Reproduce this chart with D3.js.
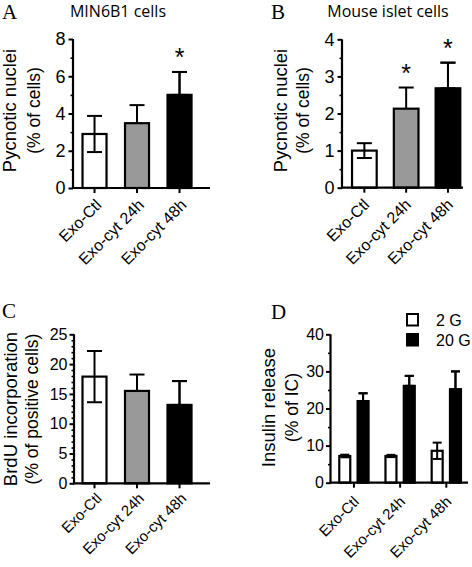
<!DOCTYPE html>
<html>
<head>
<meta charset="utf-8">
<script src="https://cdn.jsdelivr.net/npm/d3@7"></script>
<style>
  html, body { margin: 0; padding: 0; background: #fff; }
  svg { display: block; }
  text { font-family: "Liberation Sans", Arial, sans-serif; fill: #000; }
</style>
</head>
<body>
<svg id="chart" width="472" height="567"></svg>
<script>
// ---------- data ----------
const categories = ["Exo-Ctl", "Exo-cyt 24h", "Exo-cyt 48h"];
const barFills = ["#ffffff", "#999999", "#000000"];

// A: MIN6B1 cells, pycnotic nuclei (% of cells)
const pycMin6Mean = [2.9, 3.48, 5.0];
const pycMin6Err = [0.97, 0.97, 1.23];
const pycMin6Sig = [false, false, true];
const pycMin6Ticks = [0, 2, 4, 6, 8];
const pycMin6Minor = [1, 3, 5, 7];

// B: Mouse islet cells, pycnotic nuclei (% of cells)
const pycIsletMean = [1.0, 2.13, 2.68];
const pycIsletErr = [0.2, 0.57, 0.69];
const pycIsletSig = [false, true, true];
const pycIsletTicks = [0, 1, 2, 3, 4];
const pycIsletMinor = [0.5, 1.5, 2.5, 3.5];

// C: BrdU incorporation (% of positive cells)
const brduMean = [17.9, 15.5, 13.15];
const brduErr = [4.3, 2.75, 4.0];
const brduTicks = [0, 5, 10, 15, 20, 25];
const brduMinor = [1,2,3,4,6,7,8,9,11,12,13,14,16,17,18,19,21,22,23,24];

// D: Insulin release (% of IC)
const glucose = ["2 G", "20 G"];
const glucoseFills = ["#ffffff", "#000000"];
const ins2GMean = [7.2, 7.2, 8.6];
const ins2GErr = [0.35, 0.3, 2.2];
const ins20GMean = [22.0, 26.1, 25.2];
const ins20GErr = [2.1, 2.7, 4.8];
const insTicks = [0, 10, 20, 30, 40];
const insMinor = [5, 15, 25, 35];

// ---------- drawing ----------
const svg = d3.select("#chart");

function yAxis(g, y, x0, ticks, minor, fontSize, pad) {
  const ax = g.append("g").attr("transform", `translate(${x0},0)`);
  ax.call(d3.axisLeft(y).tickValues(ticks).tickSize(4.5).tickPadding(pad).tickFormat(d3.format("d")));
  ax.select(".domain").remove();
  ax.selectAll(".tick line").attr("stroke", "#000").attr("stroke-width", 2);
  ax.selectAll(".tick text").style("font-size", fontSize + "px").attr("font-family", "Liberation Sans, Arial, sans-serif");
  const mn = g.append("g").attr("transform", `translate(${x0},0)`);
  mn.call(d3.axisLeft(y).tickValues(minor).tickSize(2.5).tickFormat(""));
  mn.select(".domain").remove();
  mn.selectAll(".tick line").attr("stroke", "#000").attr("stroke-width", 1.6);
  const [r0, r1] = y.range();
  g.append("line").attr("x1", x0).attr("x2", x0).attr("y1", r0 + 1).attr("y2", r1)
    .attr("stroke", "#000").attr("stroke-width", 2.2);
}

function xAxis(g, x, x0, xEnd, y0, fontSize, dx, dy) {
  g.append("line").attr("x1", x0 - 1).attr("x2", xEnd).attr("y1", y0).attr("y2", y0)
    .attr("stroke", "#000").attr("stroke-width", 2.2);
  categories.forEach(c => {
    const cx = x(c) + x.bandwidth() / 2;
    g.append("line").attr("x1", cx).attr("x2", cx).attr("y1", y0).attr("y2", y0 + 5)
      .attr("stroke", "#000").attr("stroke-width", 2);
    g.append("text")
      .attr("transform", `translate(${cx + dx},${y0 + dy}) rotate(-45)`)
      .attr("text-anchor", "end")
      .style("font-size", fontSize + "px")
      .text(c);
  });
}

function yLabel(g, lines, xs, cy, fontSize) {
  lines.forEach((t, i) => {
    g.append("text")
      .attr("transform", `translate(${xs[i]},${cy}) rotate(-90)`)
      .attr("text-anchor", "middle")
      .style("font-size", fontSize[i] + "px")
      .text(t);
  });
}

function panelLetter(g, letter, x, y) {
  g.append("text").attr("x", x).attr("y", y)
    .style("font-family", "'Liberation Serif', 'Times New Roman', serif")
    .style("font-size", "21px").text(letter);
}

function errBar(g, cx, yTop, yMid, yBot, cap) {
  g.append("line").attr("x1", cx).attr("x2", cx).attr("y1", yTop).attr("y2", yBot)
    .attr("stroke", "#000").attr("stroke-width", 2);
  [yTop, yBot].forEach(yy => {
    g.append("line").attr("x1", cx - cap / 2).attr("x2", cx + cap / 2).attr("y1", yy).attr("y2", yy)
      .attr("stroke", "#000").attr("stroke-width", 2);
  });
}

function simplePanel(opt) {
  const g = svg.append("g");
  const x = d3.scaleBand().domain(categories).range([opt.x0, opt.x0 + opt.step * (3 - opt.pi + 2 * opt.po)])
    .paddingInner(opt.pi).paddingOuter(opt.po);
  const y = d3.scaleLinear().domain([0, opt.ticks[opt.ticks.length - 1]]).range([opt.y0, opt.y1]);
  categories.forEach((c, i) => {
    const m = opt.mean[i], e = opt.err[i];
    const cx = x(c) + x.bandwidth() / 2;
    errBar(g, cx, y(m + e), y(m), y(m - e), opt.cap);
    g.append("rect").attr("x", x(c)).attr("y", y(m)).attr("width", x.bandwidth()).attr("height", y(0) - y(m))
      .attr("fill", barFills[i]).attr("fill-opacity", i === 0 ? 0 : 1)
      .attr("stroke", "#000").attr("stroke-width", 2.2);
    if (i === 2) errBar(g, cx, y(m + e), y(m), y(m), opt.cap);
    if (opt.sig && opt.sig[i]) {
      g.append("text").attr("x", cx).attr("y", y(m + e) - 6).attr("text-anchor", "middle")
        .style("font-size", "25px").text("*");
    }
  });
  yAxis(g, y, opt.x0, opt.ticks, opt.minor, opt.tickFont, opt.tickPad);
  xAxis(g, x, opt.x0, opt.xEnd, opt.y0, opt.xFont, opt.lx, opt.ly);
  yLabel(g, opt.ylab, opt.ylabX, opt.ylabY, opt.ylabFont);
  panelLetter(g, opt.letter, opt.letterX, opt.letterY);
  if (opt.title) {
    g.append("text").attr("x", opt.titleX).attr("y", opt.titleY).attr("text-anchor", "middle")
      .style("font-family", "'Open Sans', sans-serif").style("font-size", "16px").text(opt.title);
  }
}

// A
simplePanel({
  x0: 73, step: 42.5, pi: 0.435, po: 0.224, xEnd: 210, y0: 188, y1: 39,
  mean: pycMin6Mean, err: pycMin6Err, sig: pycMin6Sig, ticks: pycMin6Ticks, minor: pycMin6Minor,
  cap: 15, tickFont: 18, tickPad: 3, xFont: 16, lx: 8, ly: 18,
  ylab: ["Pycnotic nuclei", "(% of cells)"], ylabX: [16, 40], ylabY: 110.5, ylabFont: [18.5, 17.5],
  letter: "A", letterX: 2, letterY: 19, title: "MIN6B1 cells", titleX: 118, titleY: 17
});
// B
simplePanel({
  x0: 342, step: 41.8, pi: 0.41, po: 0.24, xEnd: 463, y0: 187.7, y1: 39.3,
  mean: pycIsletMean, err: pycIsletErr, sig: pycIsletSig, ticks: pycIsletTicks, minor: pycIsletMinor,
  cap: 15, tickFont: 18, tickPad: 3, xFont: 16, lx: 6, ly: 18,
  ylab: ["Pycnotic nuclei", "(% of cells)"], ylabX: [286.5, 308.5], ylabY: 110.5, ylabFont: [18.5, 17.5],
  letter: "B", letterX: 271, letterY: 19, title: "Mouse islet cells", titleX: 388, titleY: 17
});
// C
simplePanel({
  x0: 74, step: 42.5, pi: 0.435, po: 0.2, xEnd: 210, y0: 483.3, y1: 334.3,
  mean: brduMean, err: brduErr, sig: null, ticks: brduTicks, minor: brduMinor,
  cap: 15, tickFont: 16, tickPad: 2, xFont: 15, lx: 8, ly: 16,
  ylab: ["BrdU incorporation", "(% of positive cells)"], ylabX: [16.5, 38], ylabY: 409, ylabFont: [18.5, 17.5],
  letter: "C", letterX: 2, letterY: 318, title: null
});

// D (grouped)
(function () {
  const g = svg.append("g");
  const x0 = 330.5, step = 46.2, pi = 0.366, po = 0.19, y0 = 482.7, y1 = 334.3;
  const x = d3.scaleBand().domain(categories).range([x0, x0 + step * (3 - pi + 2 * po)])
    .paddingInner(pi).paddingOuter(po);
  const xs = d3.scaleBand().domain(glucose).range([0, x.bandwidth()]).paddingInner(0.4).paddingOuter(0);
  const y = d3.scaleLinear().domain([0, 40]).range([y0, y1]);
  const means = [ins2GMean, ins20GMean], errs = [ins2GErr, ins20GErr];
  categories.forEach((c, i) => {
    glucose.forEach((gl, j) => {
      const m = means[j][i], e = errs[j][i];
      const bx = x(c) + xs(gl), cx = bx + xs.bandwidth() / 2;
      errBar(g, cx, y(m + e), y(m), y(m - e), 9);
      g.append("rect").attr("x", bx).attr("y", y(m)).attr("width", xs.bandwidth()).attr("height", y(0) - y(m))
        .attr("fill", glucoseFills[j]).attr("fill-opacity", j === 0 ? 0 : 1)
        .attr("stroke", "#000").attr("stroke-width", 2.2);
      if (j === 1) errBar(g, cx, y(m + e), y(m), y(m), 9);
    });
  });
  yAxis(g, y, x0, insTicks, insMinor, 16, 2);
  xAxis(g, x, x0, 468, y0, 15, 6, 20);
  yLabel(g, ["Insulin release", "(% of IC)"], [275, 297.5], 407.5, [18.5, 17.5]);
  panelLetter(g, "D", 271, 319);
  // legend
  glucose.forEach((gl, j) => {
    g.append("rect").attr("x", 407).attr("y", 314 + j * 20).attr("width", 11).attr("height", 11.5)
      .attr("fill", glucoseFills[j]).attr("stroke", "#000").attr("stroke-width", 2);
    g.append("text").attr("x", 436).attr("y", 326 + j * 20).style("font-size", "16px").text(gl);
  });
})();
</script>
</body>
</html>
